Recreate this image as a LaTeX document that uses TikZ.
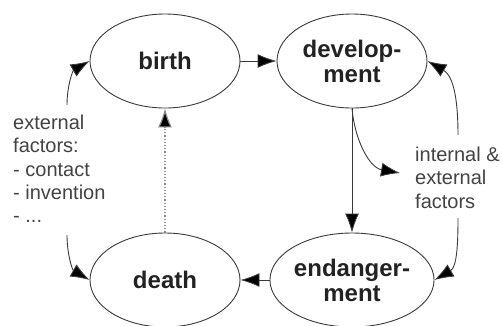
\documentclass[tikz,border=0pt]{standalone}
\usepackage{fontspec}
\setmainfont{Liberation Sans}
\usetikzlibrary{shapes.geometric,arrows.meta}
\definecolor{Ink}{HTML}{222222}
\definecolor{Wire}{HTML}{3A3A3A}
\definecolor{Soft}{HTML}{8A8A8A}
\tikzstyle{stage}=[ellipse,draw=Wire,line width=0.9,minimum width=150,minimum height=94,inner sep=0pt,align=center,text=Ink,font=\fontsize{24}{25}\selectfont\bfseries]
\tikzstyle{note}=[inner sep=0pt,anchor=north west,align=left,text=Ink!85,font=\fontsize{20}{23.3}\selectfont]
\tikzstyle{arrow}=[-{Latex[length=19,width=14,fill=black]},draw=Wire,line width=0.9]
\tikzstyle{dots}=[-{Latex[length=19,width=14,fill=black]},draw=Soft,dotted,line width=1.2]

\begin{document}
\begin{tikzpicture}[x=1pt,y=-1pt]
  \useasboundingbox (0,0) rectangle (503,325);
  \node [style=stage] (0) at (165, 61) {birth};
  \node [style=stage] (1) at (352, 61) {develop-\\ment};
  \node [style=stage] (2) at (352, 280) {endanger-\\ment};
  \node [style=stage] (3) at (165, 280) {death};
  \node [style=note] (4) at (13, 115) {external\\factors:\\- contact\\- invention\\- ...};
  \node [style=note] (5) at (415, 147) {internal \&\\external\\factors};
  \coordinate (6) at (67, 105);
  \coordinate (7) at (67, 235);
  \coordinate (8) at (458, 135);
  \coordinate (9) at (458, 218);
  \coordinate (10) at (400, 173);
  \draw [style=arrow] (0.east) to (1.west);
  \draw [style=arrow] (1.south) to (2.north);
  \draw [style=arrow] (2.west) to (3.east);
  \draw [style=dots] (3.north) to (0.south);
  \draw [style=arrow] (1.south) to[out=-85,in=170] (10);
  \draw [style=arrow] (6) to[out=90,in=210] (0.west);
  \draw [style=arrow] (7) to[out=-90,in=150] (3.west);
  \draw [style=arrow] (8) to[out=90,in=-30] (1.east);
  \draw [style=arrow] (9) to[out=-90,in=30] (2.east);
\end{tikzpicture}
\end{document}
